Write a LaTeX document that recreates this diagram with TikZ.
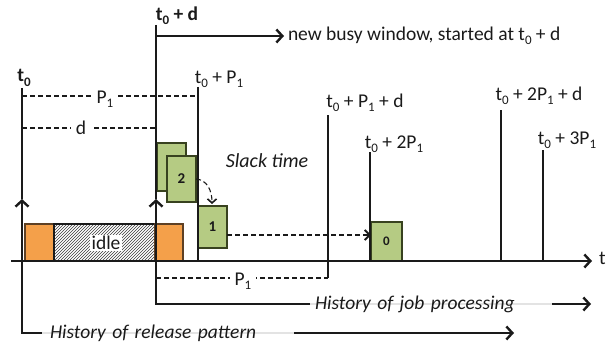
\documentclass[tikz,border=0pt]{standalone}
\usepackage{fontspec}
\setmainfont{Carlito}
\usetikzlibrary{arrows.meta,patterns}
\definecolor{jobfill}{HTML}{B5CB83}
\definecolor{jobedge}{HTML}{38421F}
\definecolor{busyfill}{HTML}{F4A04A}
\definecolor{busyedge}{HTML}{5E4024}
\definecolor{ink}{HTML}{1A1A1A}
% lowered subscript used in the time labels
\newcommand\lo[1]{\raisebox{-0.45ex}{\fontsize{13}{13}\selectfont #1}}
\begin{document}
\begin{tikzpicture}[x=1pt,y=-1pt,
  every node/.style={text=ink, inner sep=1pt, outer sep=0pt},
  lbl/.style={font=\fontsize{19.5}{21}\selectfont},
  boldlbl/.style={font=\fontsize{19.5}{21}\selectfont\bfseries},
  histlbl/.style={font=\fontsize{19.5}{21}\selectfont\itshape, fill=white, fill opacity=0.88, text opacity=1, anchor=west, inner ysep=2pt, align=left},
  tick/.style={draw=ink, line width=1.4pt},
  guide/.style={draw=ink, line width=1.1pt, dash pattern=on 5pt off 3pt},
  gaplbl/.style={font=\fontsize{19.5}{21}\selectfont, fill=white, inner xsep=5pt},
  heavy/.style={draw=ink, line width=2.4pt},
  barb/.tip={Straight Barb[length=6pt, width=13pt, line width=2.4pt]},
  job/.style={draw=jobedge, fill=jobfill, line width=1.3pt, inner sep=0pt, font=\fontsize{15}{15}\selectfont\bfseries},
  busy/.style={draw=busyedge, fill=busyfill, line width=1.2pt, inner sep=0pt, minimum height=37},
  idlebox/.style={draw=ink, line width=1.2pt, inner sep=0pt, minimum height=37, pattern=north east lines, pattern color=ink!85}
]
\useasboundingbox (0,0) rectangle (616,345);

% busy periods and idle gap of the previous window
\node[busy, minimum width=29] (busyA) at (39.5,242.5) {};
\node[idlebox, minimum width=101] (idle) at (104.5,242.5) {};
\node[fill=white, inner sep=1.5pt, font=\fontsize{19.5}{21}\selectfont] (idletext) at (106,243) {idle};
\node[busy, minimum width=28] (busyB) at (169,242.5) {};

% jobs of the new busy window
\node[job, minimum width=29, minimum height=48] (jback) at (171.5,167) {};
\node[job, minimum width=29, minimum height=46] (j2) at (181.5,179) {2};
\node[job, minimum width=29, minimum height=42] (j1) at (212.5,227) {1};
\node[job, minimum width=31, minimum height=39, font=\fontsize{13}{13}\selectfont\bfseries] (j0) at (386.5,241.5) {0};

% time axis
\coordinate (ax0) at (11,261);
\coordinate (ax1) at (592,261);
\draw[heavy, line width=2.2pt, -barb] (ax0) -- (ax1);
\node[lbl, anchor=west] (tlbl) at (598,258) {t};

% t0 and history of release pattern
\coordinate (t0top) at (22,88);
\coordinate (t0tip) at (22,199);
\coordinate (t0bot) at (22,333);
\coordinate (relend) at (514,333);
\draw[tick] (t0top) -- (t0tip);
\draw[heavy, barb-barb] (t0tip) -- (t0bot) -- (relend);
\node[histlbl, text width=236, inner xsep=8pt] (rel) at (42,333) {History of release pattern};
\node[boldlbl] (t0lbl) at (24,78) {t\lo{0}};

% t0 + d and history of job processing
\coordinate (tdtop) at (156,25);
\coordinate (tdtip) at (156,199);
\coordinate (tdbot) at (156,304);
\coordinate (jobend) at (591,304);
\draw[tick] (tdtop) -- (tdtip);
\draw[heavy, barb-barb] (tdtip) -- (tdbot) -- (jobend);
\node[histlbl, text width=232, inner xsep=5pt] (jobh) at (310,304) {History of job processing};
\node[boldlbl] (tdlbl) at (177,16) {t\lo{0} + d};

% new busy window
\coordinate (nbw0) at (156,36);
\coordinate (nbw1) at (284,36);
\draw[heavy, line width=2pt, -barb] (nbw0) -- (nbw1);
\node[lbl, anchor=west] (nbwlbl) at (287,36) {new busy window, started at t\lo{0} + d};

% release instants
\draw[tick] (198,87) coordinate (p1top) -- (198,261) coordinate (p1bot);
\node[lbl] (p1lbl) at (219,79) {t\lo{0} + P\lo{1}};
\draw[tick] (328,115) coordinate (p1dtop) -- (328,278) coordinate (p1dbot);
\node[lbl] (p1dlbl) at (365,103) {t\lo{0} + P\lo{1} + d};
\draw[tick] (370,152) coordinate (p2top) -- (370,261) coordinate (p2bot);
\node[lbl] (p2lbl) at (394,144) {t\lo{0} + 2P\lo{1}};
\draw[tick] (501,110) coordinate (p2dtop) -- (501,261) coordinate (p2dbot);
\node[lbl] (p2dlbl) at (539,96) {t\lo{0} + 2P\lo{1} + d};
\draw[tick] (543,150) coordinate (p3top) -- (543,261) coordinate (p3bot);
\node[lbl] (p3lbl) at (567,140) {t\lo{0} + 3P\lo{1}};

% distances
\draw[guide] (22,96) coordinate (g1a) -- (198,96) coordinate (g1b);
\node[gaplbl] (g1lbl) at (105,99) {P\lo{1}};
\draw[guide] (22,128) coordinate (g2a) -- (156,128) coordinate (g2b);
\node[gaplbl] (g2lbl) at (81,128) {d};
\draw[guide] (156,278) coordinate (g3a) -- (p1dbot);
\node[gaplbl] (g3lbl) at (243,281) {P\lo{1}};

% slack time
\node[font=\fontsize{20}{22}\selectfont\itshape] (slack) at (267,161) {Slack time};
\draw[guide, -{Straight Barb[length=4pt,width=9pt,line width=1.6pt]}] (j2.east |- 0,179) .. controls (207,180) and (212,190) .. (212,204);
\draw[guide, -{Straight Barb[length=5pt,width=10pt,line width=1.8pt]}] (j1.east |- 0,235) -- (j0.west |- 0,235);
\end{tikzpicture}
\end{document}
